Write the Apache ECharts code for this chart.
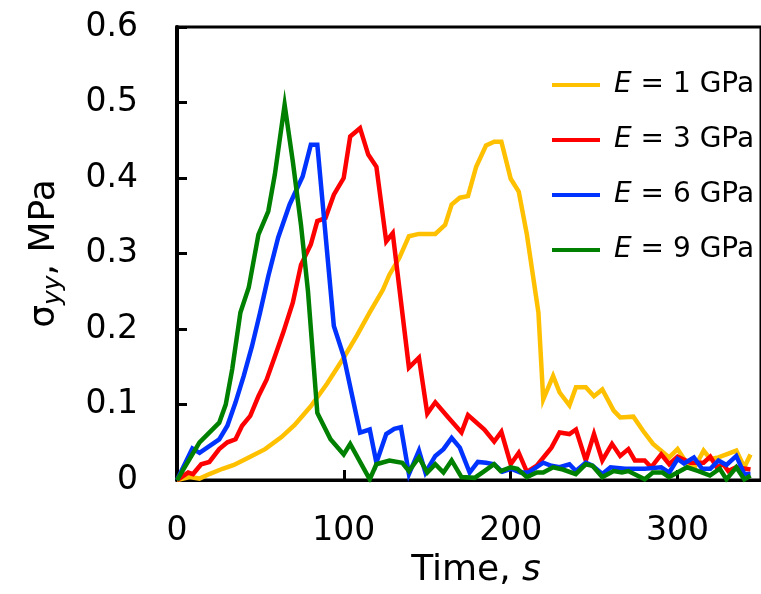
<!DOCTYPE html>
<html>
<head>
<meta charset="utf-8">
<script src="https://cdn.jsdelivr.net/npm/echarts@6/dist/echarts.min.js"></script>
<style>html,body{margin:0;padding:0;background:#fff;}#c{width:761px;height:594px;}</style>
</head>
<body>
<div id="c"></div>
<script>
// Tick labels / axis range
var xTicks = [0, 100, 200, 300];
var yTicks = [0, 0.1, 0.2, 0.3, 0.4, 0.5, 0.6];
var seriesNames = ['E = 1 GPa', 'E = 3 GPa', 'E = 6 GPa', 'E = 9 GPa'];

// E = 1 GPa
var t1 = [0,7.6,13.5,19.4,27.3,34.1,43,52.8,62.6,70.5,80.3,90,99.9,107.7,115.5,123.4,127.3,133.2,139,145,154.8,160.7,164.6,169.5,174.4,179.3,185.2,190.1,194.4,200,204.8,209.7,216.6,219.5,225.4,229.3,235.2,239.1,245,249.9,254.9,261.7,265.6,273.5,279.4,285.3,295,300,305.9,310.7,315.6,319.6,324.5,329.3,335.2,340,343.7];
var v1 = [0,0.004,0.002,0.008,0.015,0.020,0.030,0.041,0.057,0.073,0.098,0.128,0.162,0.191,0.222,0.252,0.272,0.294,0.323,0.326,0.326,0.338,0.365,0.374,0.376,0.415,0.443,0.448,0.448,0.399,0.382,0.325,0.222,0.107,0.138,0.116,0.099,0.123,0.123,0.111,0.120,0.092,0.083,0.084,0.065,0.048,0.030,0.041,0.021,0.019,0.039,0.028,0.030,0.034,0.039,0.017,0.034];

// E = 3 GPa
var t3 = [0,6.7,9.6,14.5,19.4,25.3,30.2,35.1,39,43.9,48.8,53.7,58.7,63.6,69.4,74.3,80.2,84.1,89,94,99.9,103.8,109.7,114.6,119.5,125.4,129.3,139,145,150,154.8,162.6,170.5,174.4,184.2,190.1,194.4,200,204.8,209.7,215.6,224.4,229.3,235.2,239.1,245,249.9,254.9,260.7,265.6,270.5,274.4,280.3,284.2,290.2,295,300,307.8,315.6,319.6,323.5,327.4,330.4,335,343.7];
var v3 = [0,0.010,0.008,0.021,0.024,0.041,0.050,0.054,0.072,0.085,0.111,0.133,0.164,0.195,0.235,0.285,0.312,0.343,0.347,0.378,0.400,0.455,0.466,0.431,0.415,0.316,0.327,0.149,0.162,0.088,0.103,0.083,0.063,0.086,0.067,0.051,0.064,0.021,0.036,0.011,0.019,0.043,0.063,0.061,0.067,0.026,0.061,0.026,0.048,0.032,0.041,0.026,0.026,0.017,0.034,0.021,0.031,0.023,0.023,0.031,0.017,0.021,0.012,0.017,0.014];

// E = 6 GPa
var t6 = [0,9.2,13.5,25.3,30.2,35.1,40,44.9,49.8,54.7,60.6,67.5,73.4,75.3,80.2,84.1,94,99.9,109.7,115.5,119.5,125.4,130.2,134.2,139,145,148.9,154.8,159.7,164.6,169.5,175.4,180.3,185.2,190.1,195,200,205.8,210.7,219.5,224.4,229.3,235.2,239.1,245,249,254.9,259.8,268.6,280.3,290.2,295,300,303.9,309.8,314.7,319.6,324.5,329.3,335.2,340,343.7];
var v6 = [0,0.042,0.036,0.054,0.072,0.103,0.138,0.177,0.222,0.27,0.321,0.365,0.393,0.402,0.444,0.444,0.204,0.164,0.063,0.067,0.023,0.061,0.068,0.070,0.008,0.039,0.010,0.032,0.041,0.056,0.043,0.010,0.024,0.023,0.021,0.011,0.015,0.010,0.010,0.023,0.019,0.017,0.021,0.012,0.023,0.019,0.008,0.017,0.015,0.015,0.017,0.010,0.028,0.022,0.030,0.015,0.015,0.026,0.020,0.032,0.008,0.008];

// E = 9 GPa
var t9 = [0,13.5,25.3,29.2,33.1,38,43,48.8,54.7,58.6,64.5,69.4,74.3,78.5,84.1,92,99.9,103.8,115.5,119.5,127.3,135,139,145,150,154.8,159.7,164.6,170.5,178.4,184.2,190,194,200,204,209.7,215.6,219.5,225.4,231.3,239,245,249,254.9,261.7,266.6,270.5,280.3,285.2,291,294.9,305.7,312.5,319.4,325.3,329.3,335.2,340,343.7];
var v9 = [0,0.050,0.076,0.100,0.147,0.222,0.255,0.325,0.356,0.404,0.497,0.422,0.338,0.25,0.089,0.054,0.034,0.048,0.001,0.021,0.026,0.023,0.012,0.030,0.010,0.021,0.010,0.026,0.004,0.003,0.012,0.021,0.012,0.017,0.015,0.004,0.010,0.010,0.017,0.014,0.008,0.021,0.019,0.004,0.012,0.010,0.012,0.001,0.010,0.010,0.004,0.017,0.012,0.006,0.015,0.001,0.017,0.001,0.006];

var colors = ['#FFC000', '#FF0000', '#0033FF', '#008000'];
var FONT = 'DejaVu Sans';

function pairs(t, v) { return t.map(function (x, i) { return [x, v[i]]; }); }
var allT = [t1, t3, t6, t9], allV = [v1, v3, v6, v9];

var chart = echarts.init(document.getElementById('c'), null, {renderer: 'canvas'});
chart.setOption({
  animation: false,
  backgroundColor: '#fff',
  color: colors,
  textStyle: {fontFamily: FONT},
  grid: {left: 177, top: 27, right: -11, bottom: 113, show: true, borderColor: '#000', borderWidth: 3, containLabel: false},
  legend: {
    orient: 'vertical', left: 552, top: 70, padding: 0,
    icon: 'rect', itemWidth: 48, itemHeight: 4, itemGap: 25,
    data: seriesNames,
    formatter: function (name) { return '{i|E}' + name.slice(1); },
    textStyle: {fontFamily: FONT, fontSize: 28, color: '#000', lineHeight: 30, padding: [0, 0, 0, 9],
      rich: {i: {fontFamily: FONT, fontSize: 28, fontStyle: 'italic', color: '#000'}}}
  },
  xAxis: {
    type: 'value', min: xTicks[0], max: 350, interval: 100,
    name: 'Time, {i|s}', nameLocation: 'middle', nameGap: 70,
    nameTextStyle: {fontFamily: FONT, fontSize: 36, color: '#000', padding: [0, 0, 0, 14],
      rich: {i: {fontFamily: FONT, fontSize: 36, fontStyle: 'italic', color: '#000'}}},
    axisLine: {show: true, lineStyle: {color: '#000', width: 3}},
    axisTick: {show: true, inside: true, length: 10, lineStyle: {color: '#000', width: 3}},
    axisLabel: {fontFamily: FONT, fontSize: 33, color: '#000', margin: 35, showMaxLabel: false,
      formatter: function (v) { return xTicks.indexOf(v) >= 0 ? String(v) : ''; }},
    splitLine: {show: false}
  },
  yAxis: {
    type: 'value', min: yTicks[0], max: yTicks[yTicks.length - 1], interval: 0.1,
    name: '{s|σ}{sub|yy}{n|, MPa}', nameLocation: 'middle', nameGap: 111, nameRotate: 90,
    nameTextStyle: {fontFamily: FONT, fontSize: 36, color: '#000', lineHeight: 42,
      rich: {
        s: {fontFamily: FONT, fontSize: 36, color: '#000', lineHeight: 42},
        sub: {fontFamily: FONT, fontSize: 25, fontStyle: 'italic', color: '#000', lineHeight: 24, verticalAlign: 'bottom'},
        n: {fontFamily: FONT, fontSize: 36, color: '#000', lineHeight: 42}
      }},
    axisLine: {show: true, lineStyle: {color: '#000', width: 4}},
    axisTick: {show: true, inside: true, length: 10, lineStyle: {color: '#000', width: 3}},
    axisLabel: {fontFamily: FONT, fontSize: 33, color: '#000', margin: 39,
      formatter: function (v) { return String(Math.round(v * 10) / 10); }},
    splitLine: {show: false}
  },
  series: seriesNames.map(function (n, i) {
    return {name: n, type: 'line', data: pairs(allT[i], allV[i]), showSymbol: false, symbol: 'none',
      lineStyle: {width: 4.5, color: colors[i], join: 'miter'}, itemStyle: {color: colors[i]}};
  })
});
</script>
</body>
</html>
